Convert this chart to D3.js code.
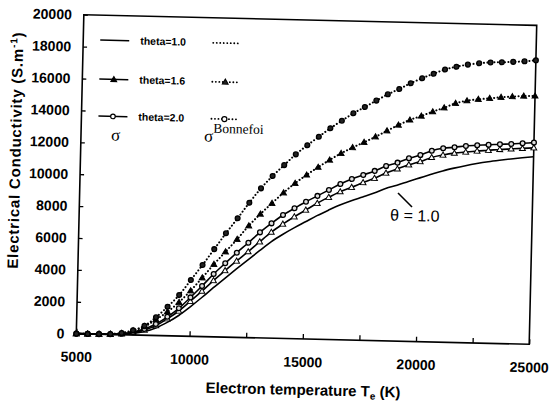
<!DOCTYPE html>
<html><head><meta charset="utf-8">
<script src="https://cdn.jsdelivr.net/npm/d3@7"></script>
<style>body{margin:0;background:#fff}svg{display:block}</style>
</head><body>
<svg id="c" width="553" height="406"></svg>
<script>
const temps = [5000,5500,6000,6500,7000,7500,8000,8500,9000,9500,10000,10500,11000,11500,12000,12500,13000,13500,14000,14500,15000,15500,16000,16500,17000,17500,18000,18500,19000,19500,20000,20500,21000,21500,22000,22500,23000,23500,24000,24500,25000];
const sigmaTheta10 = [0,0,0,0,30, 100,230,470,840,1290, 1850,2450,3080,3690,4290, 4880,5470,6040,6520,6950, 7350,7750,8110,8450,8740, 8990,9250,9560,9780,10030, 10270,10510,10740,10930,11100, 11250,11380,11490,11590,11680, 11760];
const sigmaTheta16 = [0,0,0,10,50, 150,330,620,1060,1570, 2200,2850,3530,4170,4790, 5390,6030,6650,7170,7650, 8090,8530,8920,9290,9580, 9890,10180,10520,10800,11070, 11290,11570,11740,11870,11960, 12040,12100,12170,12220,12270, 12320];
const sigmaTheta20 = [0,0,0,15,60, 180,390,720,1190,1740, 2440,3170,3940,4630,5310, 5950,6620,7200,7740,8180, 8610,8990,9380,9770,10100, 10370,10640,10960,11190,11480, 11700,11990,12160,12240,12340, 12400,12440,12500,12530,12590, 12650];
const bonnefoiTheta16 = [0,0,5,25,90, 260,540,1000,1500,2120, 2860,3690,4550,5350,6150, 7020,7770,8460,9140,9750, 10290,10790,11260,11690,12070, 12420,12780,13170,13550,13890, 14150,14440,14700,15000,15180, 15280,15360,15440,15500,15550, 15580];
const bonnefoiTheta20 = [0,0,10,30,110, 300,590,1140,1820,2570, 3530,4490,5500,6510,7470, 8460,9380,10170,10870,11560, 12150,12700,13250,13740,14220, 14630,15050,15460,15810,16190, 16520,16820,17100,17290,17440, 17540,17610,17640,17680,17730, 17810];
const yTicks = [0,2000,4000,6000,8000,10000,12000,14000,16000,18000,20000];
const xMajorTicks = [5000,10000,15000,20000,25000];
const xAllTicks = [5000,7500,10000,12500,15000,17500,20000,22500,25000];
const legendLabels = ["theta=1.0","theta=1.6","theta=2.0"];
const xTitle = "Electron temperature T";
const yTitle = "Electrical Conductivity (S.m";
const curveLabel = "θ = 1.0";

const svg = d3.select('#c');
const g = svg.append('g').attr('transform','rotate(1.35,306,180)');
const x = d3.scaleLinear().domain([5000,25000]).range([80,533]);
const y = d3.scaleLinear().domain([0,20000]).range([339,20]);
const FONT = 'Liberation Sans, Arial, sans-serif';
const DOTS = '0.1,3.4';

// axes
const ya = g.append('g').attr('transform','translate(80,0)')
  .call(d3.axisLeft(y).tickValues(yTicks).tickSize(-4).tickPadding(12).tickFormat(d3.format('d')));
ya.selectAll('text').attr('font-family',FONT).attr('font-weight','bold').attr('font-size','14px').attr('fill','#000');
const xa = g.append('g').attr('transform','translate(0,339)')
  .call(d3.axisBottom(x).tickValues(xAllTicks).tickSize(-5).tickPadding(18)
    .tickFormat(d => xMajorTicks.includes(d) ? d3.format('d')(d) : ''));
xa.selectAll('text').attr('font-family',FONT).attr('font-weight','bold').attr('font-size','14px').attr('fill','#000');
[ya,xa].forEach(a => { a.select('.domain').remove(); a.selectAll('line').attr('stroke','#000').attr('stroke-width',1.3); });

g.append('rect').attr('x',x(5000)).attr('y',y(20000)).attr('width',x(25000)-x(5000)).attr('height',y(0)-y(20000))
  .attr('fill','none').attr('stroke','#000').attr('stroke-width',1.6);

// titles
const xt = g.append('text').attr('x',308).attr('y',395).attr('text-anchor','middle')
  .attr('font-family',FONT).attr('font-weight','bold').attr('font-size','15px');
xt.append('tspan').text(xTitle);
xt.append('tspan').attr('font-size','10px').attr('dy',3).text('e');
xt.append('tspan').attr('dy',-3).text(' (K)');

const yt = g.append('text').attr('transform','translate(20,157) rotate(-90)').attr('text-anchor','middle')
  .attr('font-family',FONT).attr('font-weight','bold').attr('font-size','15px').attr('letter-spacing','0.8px');
yt.append('tspan').text(yTitle);
yt.append('tspan').attr('font-size','10px').attr('dy',-6).text('-1');
yt.append('tspan').attr('dy',6).text(')');

// curves
const line = d3.line().x((d,i)=>x(temps[i])).y(d=>y(d)).curve(d3.curveMonotoneX);
const tri = d3.symbol().type(d3.symbolTriangle).size(15);

function drawSeries(vals, dotted, marker, fill){
  g.append('path').attr('d',line(vals)).attr('fill','none').attr('stroke','#000')
    .attr('stroke-width', dotted?2:1.6)
    .attr('stroke-dasharray', dotted?DOTS:null).attr('stroke-linecap', dotted?'round':'butt');
  if(!marker) return;
  const mg = g.append('g');
  vals.forEach((v,i)=>{
    const cx = x(temps[i]), cy = y(v);
    if(marker==='circle'){
      mg.append('circle').attr('cx',cx).attr('cy',cy).attr('r',2.4).attr('fill',fill).attr('stroke','#000').attr('stroke-width',1.3);
    } else {
      mg.append('path').attr('d',tri()).attr('transform',`translate(${cx},${cy+0.4})`).attr('fill',fill).attr('stroke','#000').attr('stroke-width',1);
    }
  });
}
drawSeries(sigmaTheta10,false,null);
drawSeries(sigmaTheta16,false,'tri','#fff');
drawSeries(sigmaTheta20,false,'circle','#ddd');
drawSeries(bonnefoiTheta16,true,'tri','#000');
drawSeries(bonnefoiTheta20,true,'circle','#222');

// curve label
g.append('line').attr('x1',398.3).attr('y1',190.8).attr('x2',412.6).attr('y2',204.5).attr('stroke','#000').attr('stroke-width',1.6);
g.append('text').attr('x',391).attr('y',218.5).attr('font-family',FONT).attr('font-size','16px').text(curveLabel);

// legend
const rowsY = [45,84,121];
const lmark = [null,'tri','circle'];
legendLabels.forEach((lab,i)=>{
  const ry = rowsY[i];
  g.append('line').attr('x1',97).attr('x2',126).attr('y1',ry).attr('y2',ry).attr('stroke','#000').attr('stroke-width',1.5);
  g.append('line').attr('x1',210).attr('x2',238).attr('y1',ry).attr('y2',ry).attr('stroke','#000').attr('stroke-width',1.8)
    .attr('stroke-dasharray',DOTS).attr('stroke-linecap','round');
  if(lmark[i]==='tri'){
    g.append('path').attr('d',tri()).attr('transform',`translate(111.5,${ry+0.4})`).attr('fill','#000').attr('stroke','#000');
    g.append('path').attr('d',tri()).attr('transform',`translate(223,${ry+0.4})`).attr('fill','#222').attr('stroke','#000');
  } else if(lmark[i]==='circle'){
    g.append('circle').attr('cx',111.5).attr('cy',ry).attr('r',2.3).attr('fill','#fff').attr('stroke','#000').attr('stroke-width',1.2);
    g.append('circle').attr('cx',223).attr('cy',ry).attr('r',2.5).attr('fill','#fff').attr('stroke','#000').attr('stroke-width',1.2);
  }
  g.append('text').attr('x',137).attr('y',ry+3.5).attr('font-family',FONT).attr('font-weight','bold').attr('font-size','10.5px').text(lab);
});
g.append('text').attr('x',110).attr('y',145).attr('font-family','Liberation Serif, Times New Roman, serif').attr('font-size','17px').text('σ');
const sb = g.append('text').attr('x',203).attr('y',144).attr('font-family','Liberation Serif, Times New Roman, serif').attr('font-size','17px');
sb.append('tspan').text('σ');
sb.append('tspan').attr('font-size','13.5px').attr('dy',-9).text('Bonnefoi');
</script>
</body></html>
